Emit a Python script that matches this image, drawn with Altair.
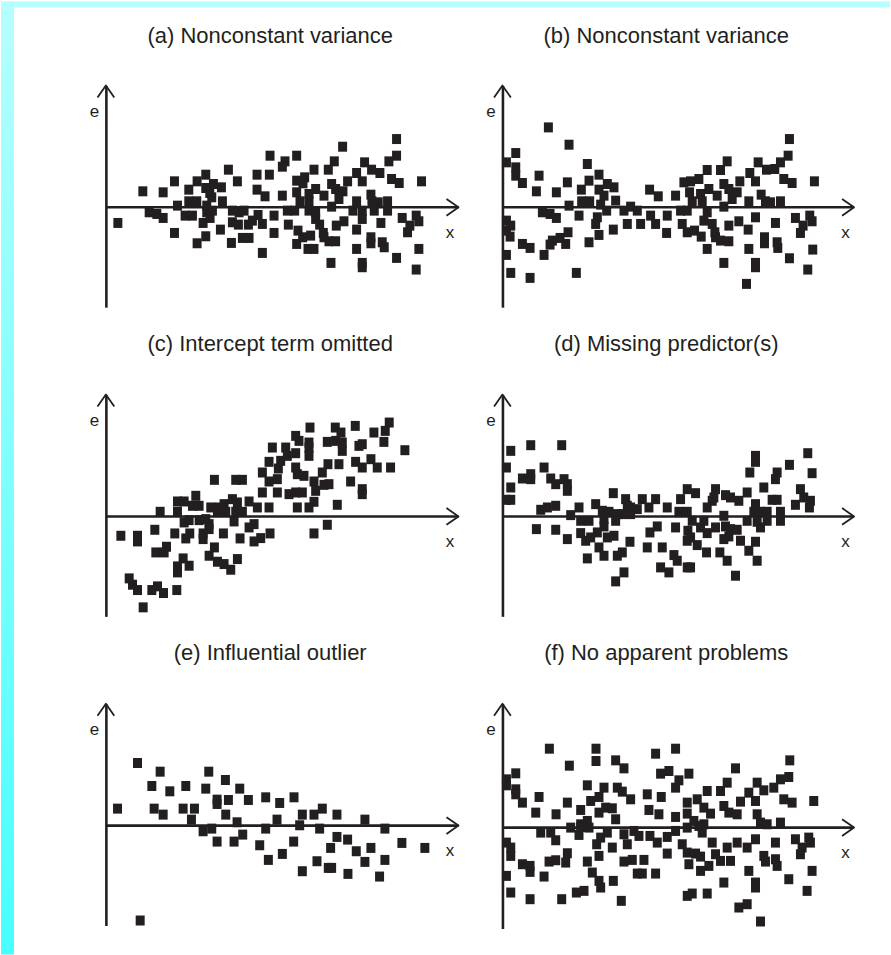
import altair as alt
import pandas as pd

TITLES = [
    "(a) Nonconstant variance",
    "(b) Nonconstant variance",
    "(c) Intercept term omitted",
    "(d) Missing predictor(s)",
    "(e) Influential outlier",
    "(f) No apparent problems",
]

# residual plots: (x, e) pairs (x: along the axis, e: residual)
A_PTS = [(873,205),(711,182),(493,155),(573,155),(873,155),(686,138),(538,138),(850,138),(777,135),(530,122),
         (368,113),(625,113),(668,113),(798,113),(823,103),(300,98),(454,98),(491,98),(753,103),(597,90),
         (206,78),(274,78),(395,78),(573,80),(592,72),(678,70),(726,78),(770,78),(858,85),(881,73),(948,78),
         (323,70),(347,60),(111,48),(172,45),(249,53),(300,58),(312,43),(454,53),(478,33),(530,35),(573,45),
         (630,55),(610,40),(655,35),(690,55),(712,48),(700,25),(796,38),(318,30),(249,18),(273,18),(303,5),
         (350,18),(215,5),(583,18),(610,18),(753,18),(799,18),(846,18),(678,2),(818,15),
         (130,-15),(153,-20),(172,-32),(238,-25),(260,-25),(303,-15),(320,-10),(380,-10),(400,-15),(415,-10),
         (457,-23),(505,-25),(545,-10),(567,-10),(610,-10),(630,-15),(742,-10),(770,-10),(806,-10),(846,-10),
         (36,-47),(292,-47),(313,-32),(380,-45),(398,-52),(428,-52),(440,-40),(470,-50),(548,-52),(630,-35),
         (642,-52),(715,-42),(692,-55),(770,-35),(826,-47),(890,-32),(932,-25),(940,-42),(913,-55),
         (206,-77),(344,-67),(505,-77),(577,-70),(591,-90),(615,-85),(653,-77),(655,-90),(753,-67),(796,-90),
         (906,-75),(274,-108),(300,-87),(377,-107),(410,-92),(430,-92),(573,-110),(670,-102),(690,-102),
         (796,-108),(830,-105),(836,-120),(470,-137),(607,-125),(625,-125),(753,-125),(940,-125),
         (676,-167),(770,-167),(770,-180),(873,-152),(932,-187)]

B_PTS = [(138,240),(200,188),(862,205),(40,163),(858,155),(12,135),(255,130),(675,138),(768,135),(40,120),
         (615,112),(655,112),(793,113),(818,115),(835,135),(40,95),(110,95),(290,98),(743,103),(60,73),
         (195,75),(260,80),(315,70),(335,60),(545,75),(565,78),(590,85),(665,70),(713,78),(760,78),(845,85),
         (870,73),(937,78),(102,48),(162,45),(237,53),(290,53),(305,35),(442,53),(468,33),(520,35),(562,45),
         (620,55),(595,40),(645,35),(680,55),(705,45),(690,25),(777,38),(238,18),(262,18),(295,8),(340,20),
         (200,5),(570,18),(600,18),(740,18),(790,18),(835,18),(665,2),(805,15),
         (12,-40),(25,-55),(12,-70),(23,-88),(120,-15),(143,-20),(162,-32),(230,-25),(313,-10),(285,-30),
         (365,-10),(385,2),(405,-10),(375,-50),(415,-50),(445,-25),(460,-50),(495,-25),(535,-10),(555,-10),
         (615,-15),(605,-40),(630,-50),(680,-55),(710,-42),(760,-30),(820,-47),(880,-32),(923,-25),(930,-42),
         (903,-55),(280,-50),(333,-67),(493,-77),(540,-50),(555,-75),(577,-70),(597,-88),(638,-75),(640,-90),
         (738,-67),(787,-90),(895,-77),(60,-110),(83,-122),(150,-100),(143,-112),(173,-92),(190,-110),
         (197,-75),(290,-83),(260,-105),(615,-125),(655,-100),(680,-102),(740,-125),(787,-108),(825,-105),
         (827,-122),(932,-127),(12,-143),(125,-143),(25,-197),(83,-212),(222,-197),(665,-167),(760,-167),
         (760,-180),(862,-153),(917,-187),(733,-230)]

C_PTS = [(613,267),(570,242),(689,267),(706,252),(749,272),(805,252),(851,282),(839,257),
         (500,207),(540,207),(580,227),(610,222),(610,207),(665,224),(690,227),(710,222),(710,197),(760,212),
         (770,217),(835,224),(898,199),(570,190),(545,182),(490,164),(525,167),(518,144),(570,147),(610,182),
         (667,157),(700,157),(750,164),(796,172),(770,147),(815,147),(855,147),(470,132),(575,127),(595,122),
         (650,132),(326,110),(390,110),(410,110),(490,105),(515,112),(625,105),(655,95),(670,97),(735,105),
         (470,72),(515,72),(550,67),(570,72),(590,72),(630,77),(770,82),(770,67),(270,62),(215,45),(235,45),
         (260,32),(280,32),(315,27),(340,27),(355,37),(380,52),(395,42),(430,45),(455,27),(490,27),(575,27),
         (610,27),(625,44),(695,35),(163,14),(215,14),(335,14),(360,14),(390,14),(410,14),
         (235,-18),(250,-11),(280,-11),(300,-8),(310,-23),(385,-15),(445,-23),(430,-33),(665,-25),(45,-58),
         (95,-58),(95,-75),(147,-40),(207,-51),(240,-66),(252,-51),(292,-51),(292,-68),(310,-38),(353,-51),
         (403,-66),(445,-75),(465,-65),(493,-51),(625,-51),(182,-91),(150,-108),(175,-108),(326,-93),
         (310,-118),(232,-126),(250,-148),(215,-150),(215,-168),(335,-136),(355,-143),(375,-160),(395,-128),
         (70,-186),(80,-205),(95,-221),(138,-221),(155,-210),(173,-230),(213,-221),(112,-273)]

D_PTS = [(25,197),(85,214),(178,214),(760,182),(760,164),(917,190),(12,147),(125,147),(862,155),(60,114),
         (85,127),(85,112),(145,114),(160,97),(185,112),(195,97),(195,77),(743,132),(825,132),(820,112),
         (930,130),(25,87),(785,87),(895,82),(12,50),(25,50),(333,70),(555,82),(580,70),(640,82),(635,57),
         (670,64),(685,57),(710,47),(735,72),(810,50),(825,50),(905,57),(925,47),(115,20),(135,27),(160,32),
         (205,4),(230,27),(280,37),(300,17),(320,14),(370,52),(385,27),(405,22),(420,52),(440,27),(460,52),
         (495,27),(375,32),(535,52),(530,14),(555,14),(615,27),(630,47),(760,37),(755,14),(775,14),(795,14),
         (835,14),(880,35),(922,27),(345,7),(360,7),(385,7),
         (235,-13),(260,-13),(305,-8),(340,-13),(570,-13),(605,-13),(665,2),(735,-13),(765,-16),(795,-13),
         (835,-13),(102,-38),(160,-40),(305,-30),(285,-48),(315,-63),(335,-58),(443,-48),(465,-30),(520,-33),
         (557,-43),(595,-33),(615,-50),(640,-33),(670,-30),(685,-38),(705,-40),(775,-33),(195,-68),(235,-50),
         (250,-73),(265,-63),(290,-93),(383,-76),(435,-93),(480,-93),(555,-73),(565,-63),(585,-86),(665,-68),
         (680,-60),(715,-73),(760,-76),(740,-103),(255,-126),(305,-118),(345,-118),(360,-108),(515,-116),
         (525,-133),(613,-108),(653,-108),(675,-133),(765,-133),(365,-168),(340,-195),(475,-153),(500,-168),
         (555,-153),(565,-153),(700,-178)]

E_PTS = [(95,188),(163,162),(309,162),(138,119),(192,103),(240,119),(300,111),(359,137),(402,111),(35,51),
         (145,51),(172,33),(232,51),(266,51),(334,78),(334,65),(368,77),(360,33),(428,77),(480,85),(522,68),
         (565,85),(257,18),(394,10),(514,18),(590,33),(625,33),(650,51),(694,33),(778,18),(292,-17),(318,-9),
         (480,-9),(582,1),(642,-9),(838,-9),(334,-48),(385,-48),(411,-27),(462,-59),(564,-48),(694,-34),
         (726,-42),(675,-67),(752,-77),(796,-67),(889,-52),(958,-67),(488,-103),(530,-85),(634,-107),
         (668,-127),(678,-127),(778,-109),(838,-103),(590,-137),(727,-145),(822,-153),(103,-285)]

F_PTS = [(141,237),(281,237),(520,237),(460,222),(863,202),(281,200),(340,202),(365,178),(201,186),(700,178),
         (40,163),(12,145),(12,127),(40,115),(40,100),(60,75),(110,92),(195,75),(255,127),(265,80),(290,92),
         (305,120),(345,120),(360,108),(385,85),(435,100),(477,92),(475,162),(500,170),(530,142),(520,120),
         (560,162),(100,45),(161,40),(235,53),(290,45),(310,60),(330,58),(340,25),(255,20),(235,10),(260,0),
         (205,0),(440,53),(470,40),(520,32),(555,75),(585,85),(615,110),(655,110),(675,135),(740,105),
         (765,135),(785,112),(815,120),(835,145),(860,152),(845,85),(870,75),(935,80),(555,42),(575,20),
         (605,60),(625,42),(605,10),(665,65),(680,45),(705,40),(765,40),(775,15),(795,10),(715,78),(760,80),
         (835,15),(555,0),(590,5),
         (12,-45),(25,-60),(25,-85),(60,-110),(83,-115),(83,-133),(12,-145),(125,-147),(25,-195),(83,-215),
         (178,-215),(222,-195),(245,-190),(357,-220),(115,-15),(145,-15),(160,-38),(230,-22),(235,2),
         (283,-50),(295,-30),(315,-15),(330,-60),(365,-20),(375,-50),(395,-10),(410,-25),(443,-25),(465,-45),
         (495,-28),(520,-10),(540,-50),(600,-15),(630,-45),(675,-60),(705,-45),(735,-60),(760,-35),(820,-45),
         (880,-35),(920,-30),(925,-45),(900,-60),(140,-102),(160,-98),(195,-77),(190,-105),(255,-102),
         (290,-85),(365,-102),(390,-97),(425,-97),(495,-78),(555,-75),(580,-78),(595,-87),(640,-80),
         (655,-100),(685,-100),(785,-85),(790,-102),(820,-95),(825,-115),(895,-80),(270,-135),(290,-160),
         (295,-180),(333,-160),(405,-138),(420,-138),(460,-138),(560,-110),(595,-130),(620,-115),(665,-165),
         (740,-130),(760,-165),(760,-180),(860,-155),(930,-130),(555,-205),(570,-198),(615,-198),(915,-190),
         (710,-240),(735,-230),(775,-282)]

INK = "#231f20"
FONT = "Liberation Sans"
SQUARE = "M-0.9,-1H0.9V1H-0.9Z"
XHEAD = "M-1,-0.7L0,0L-1,0.7"
YHEAD = "M-0.7,1L0,0L0.7,1"


def panel(title, pts, xmax, emin, emax, w, h, title_offset, strips=False):
    df = pd.DataFrame(pts, columns=["x", "e"])
    xs = alt.Scale(domain=[0, xmax], nice=False, zero=False)
    ys = alt.Scale(domain=[emin, emax], nice=False, zero=False)
    zero_px = h * emax / (emax - emin)
    one = alt.Data(values=[{"k": 0}])

    dots = alt.Chart(df).mark_point(
        shape=SQUARE, size=100, filled=True, opacity=1, color=INK, strokeWidth=0
    ).encode(
        x=alt.X("x:Q", scale=xs, axis=alt.Axis(
            domain=False, ticks=False, labels=False, grid=False, title="x",
            titleX=w - 9, titleY=-(h - zero_px) + 25, titleAngle=0,
            titleAlign="center", titleBaseline="middle", titleFont=FONT,
            titleFontSize=17, titleFontWeight="normal", titleColor=INK)),
        y=alt.Y("e:Q", scale=ys, axis=alt.Axis(
            domain=True, domainColor=INK, domainWidth=2.6, ticks=False,
            labels=False, grid=False, title="e", titleX=-12, titleY=26,
            titleAngle=0, titleAlign="center", titleBaseline="middle",
            titleFont=FONT, titleFontSize=17, titleFontWeight="normal",
            titleColor=INK)),
    )
    xaxis = alt.Chart(one).mark_rule(color=INK, strokeWidth=2.6).encode(
        y=alt.YDatum(0, type="quantitative", title="e")
    )
    xhead = alt.Chart(one).mark_point(
        shape=XHEAD, size=576, filled=False, color=INK, strokeWidth=1.8,
        opacity=1, strokeJoin="round"
    ).encode(
        x=alt.XDatum(xmax, type="quantitative", title="x"),
        y=alt.YDatum(0, type="quantitative", title="e"),
    )
    yhead = alt.Chart(one).mark_point(
        shape=YHEAD, size=576, filled=False, color=INK, strokeWidth=1.8,
        opacity=1, strokeJoin="round"
    ).encode(
        x=alt.XDatum(0, type="quantitative", title="x"),
        y=alt.YDatum(emax, type="quantitative", title="e"),
    )
    layers = [xaxis, xhead, yhead, dots]
    if strips:
        grad = alt.LinearGradient(
            gradient="linear", x1=0, y1=0, x2=0, y2=1,
            stops=[alt.GradientStop(color="#b6ffff", offset=0),
                   alt.GradientStop(color="#48ffff", offset=1)])
        left = alt.Chart(one).mark_rect(color=grad).encode(
            x=alt.value(-105), x2=alt.value(-92), y=alt.value(-84), y2=alt.value(870))
        top = alt.Chart(one).mark_rect(color="#b6ffff").encode(
            x=alt.value(-105), x2=alt.value(785), y=alt.value(-84), y2=alt.value(-78))
        layers = [left, top] + layers
    return alt.layer(*layers).properties(
        width=w, height=h,
        title=alt.TitleParams(
            text=title, font=FONT, fontSize=22, fontWeight="normal", color=INK,
            anchor="middle", frame="group", offset=title_offset, dx=-12,
            baseline="alphabetic"),
    )


LW, RW, H = 353, 352, 222
pa = panel(TITLES[0], A_PTS, 1059, -300, 366, LW, H, -64, strips=True)
pb = panel(TITLES[1], B_PTS, 1056, -300, 366, RW, H, 20)
pc = panel(TITLES[2], C_PTS, 1059, -300, 366, LW, H, 21)
pd_ = panel(TITLES[3], D_PTS, 1056, -300, 366, RW, H, 21)
pe = panel(TITLES[4], E_PTS, 1059, -300, 366, LW, H, 21)
pf = panel(TITLES[5], F_PTS, 1056, -303, 372, RW, 225, 21)

chart = alt.concat(
    pa, pb, pc, pd_, pe, pf, columns=2, bounds="flush",
    spacing=alt.RowColnumber(column=44, row=87.5),
).properties(padding=0).configure(background="white").configure_view(stroke="transparent")

chart.save("out.html", embed_options={"renderer": "svg", "actions": False})
